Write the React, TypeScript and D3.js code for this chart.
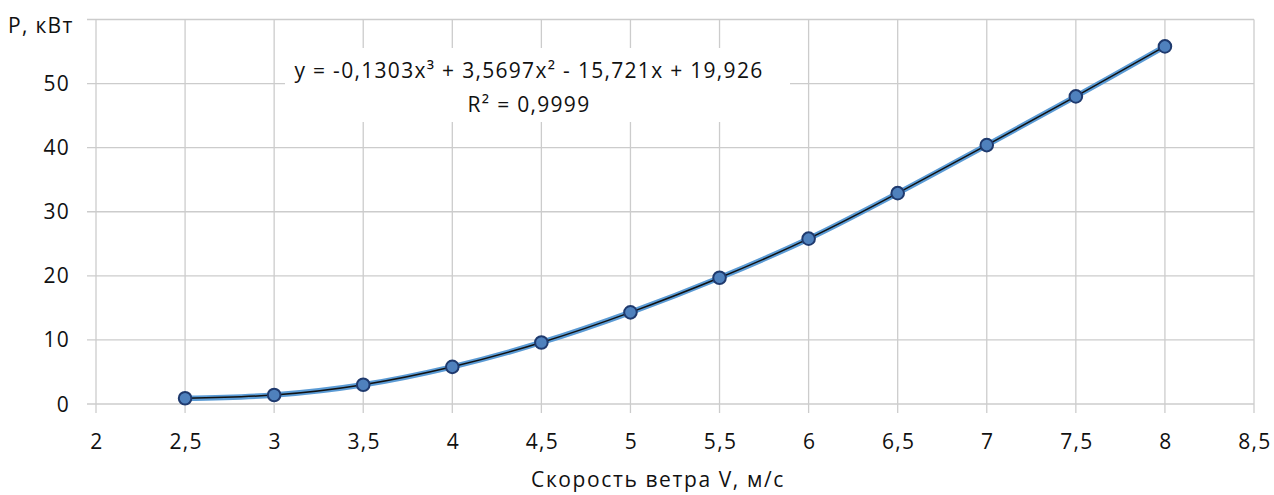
import { useRef, useEffect } from 'react';
import * as d3 from 'd3';

// wind speed, m/s
const speeds = [2.5, 3, 3.5, 4, 4.5, 5, 5.5, 6, 6.5, 7, 7.5, 8];
// power, kW
const power = [0.9, 1.4, 3.0, 5.8, 9.6, 14.3, 19.7, 25.8, 32.9, 40.4, 48.0, 55.8];
const xTicks = [2, 2.5, 3, 3.5, 4, 4.5, 5, 5.5, 6, 6.5, 7, 7.5, 8, 8.5];
const yTicks = [0, 10, 20, 30, 40, 50, 60];
const eqLine1 = 'y = -0,1303x³ + 3,5697x² - 15,721x + 19,926';
const eqLine2 = 'R² = 0,9999';
const yTitle = 'P, кВт';
const xTitle = 'Скорость ветра V, м/с';

const App = () => {
    const svgRef = useRef(null);

    useEffect(() => {
        document.body.style.margin = '0';
        const w = 1274;
        const h = 495;
        const svg = d3.select(svgRef.current)
            .attr('width', w)
            .attr('height', h)
            .style('display', 'block')
            .style('font-family', '"Open Sans", sans-serif')
            .style('letter-spacing', '1.3px');
        svg.selectAll('*').remove();

        const x = d3.scaleLinear().domain([2, 8.5]).range([96, 1254]);
        const y = d3.scaleLinear().domain([0, 60]).range([404, 19.5]);
        const grid = '#cccccc';
        const ink = '#111';
        const fs = 21;
        const fmt = (v) => String(v).replace('.', ',');

        // grid lines
        svg.append('g')
            .selectAll('line')
            .data(yTicks)
            .join('line')
            .attr('x1', 87)
            .attr('x2', x(8.5))
            .attr('y1', d => y(d))
            .attr('y2', d => y(d))
            .attr('stroke', grid)
            .attr('stroke-width', 1.3);
        svg.append('g')
            .selectAll('line')
            .data(xTicks)
            .join('line')
            .attr('x1', d => x(d))
            .attr('x2', d => x(d))
            .attr('y1', y(60))
            .attr('y2', 413)
            .attr('stroke', grid)
            .attr('stroke-width', 1.3);

        // tick labels
        svg.append('g')
            .selectAll('text')
            .data(yTicks)
            .join('text')
            .attr('x', 70)
            .attr('y', d => y(d))
            .attr('dy', '0.36em')
            .attr('text-anchor', 'end')
            .attr('font-size', fs)
            .attr('fill', ink)
            .text(d => d === 60 ? '' : fmt(d));
        svg.append('g')
            .selectAll('text')
            .data(xTicks)
            .join('text')
            .attr('x', d => x(d) + 1)
            .attr('y', 449)
            .attr('text-anchor', 'middle')
            .attr('font-size', fs)
            .attr('fill', ink)
            .text(d => fmt(d));

        // axis titles
        svg.append('text')
            .attr('x', 8)
            .attr('y', 33)
            .attr('font-size', fs)
            .attr('fill', ink)
            .text(yTitle);
        svg.append('text')
            .attr('x', 658)
            .attr('y', 487)
            .attr('text-anchor', 'middle')
            .attr('font-size', fs)
            .attr('letter-spacing', '1.6px')
            .attr('fill', ink)
            .text(xTitle);

        const pts = speeds.map((s, i) => [s, power[i]]);

        // data line
        const line = d3.line()
            .x(d => x(d[0]))
            .y(d => y(d[1]))
            .curve(d3.curveCatmullRom);
        svg.append('path')
            .datum(pts)
            .attr('d', line)
            .attr('fill', 'none')
            .attr('stroke', '#5b9bd5')
            .attr('stroke-width', 5.5);

        // trend line
        svg.append('path')
            .datum(pts)
            .attr('d', line.curve(d3.curveNatural))
            .attr('fill', 'none')
            .attr('stroke', '#111')
            .attr('stroke-width', 1.5);

        // markers
        svg.append('g')
            .selectAll('circle')
            .data(pts)
            .join('circle')
            .attr('cx', d => x(d[0]))
            .attr('cy', d => y(d[1]))
            .attr('r', 6.3)
            .attr('fill', '#4f81bd')
            .attr('stroke', '#1f3a6e')
            .attr('stroke-width', 2);

        // equation label
        svg.append('rect')
            .attr('x', 285)
            .attr('y', 48)
            .attr('width', 505)
            .attr('height', 74)
            .attr('fill', '#fff');
        svg.append('text')
            .attr('x', 529)
            .attr('y', 78)
            .attr('text-anchor', 'middle')
            .attr('font-size', fs)
            .attr('fill', ink)
            .text(eqLine1);
        svg.append('text')
            .attr('x', 529)
            .attr('y', 112)
            .attr('text-anchor', 'middle')
            .attr('font-size', fs)
            .attr('fill', ink)
            .text(eqLine2);
    }, []);

    return (
        <div>
            <svg ref={svgRef}></svg>
        </div>
    );
};

export default App;
